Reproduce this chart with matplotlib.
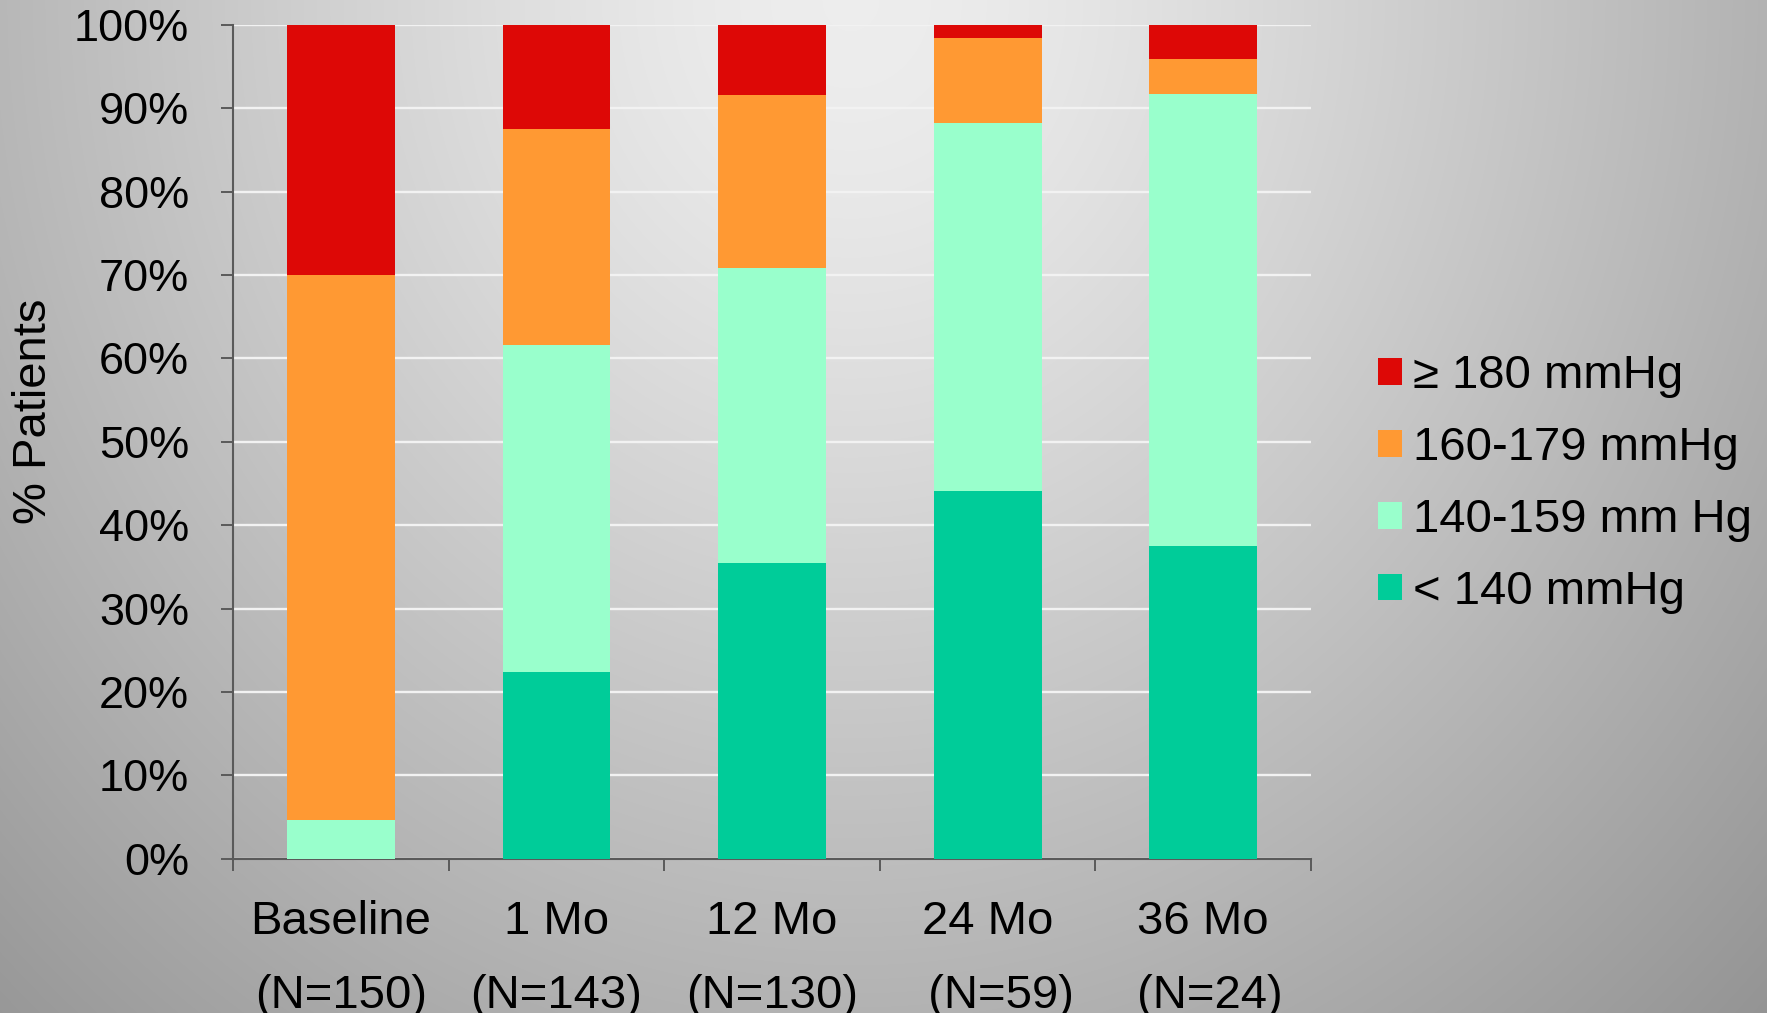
import numpy as np
import matplotlib
matplotlib.use("Agg")
import matplotlib.pyplot as plt

plt.rcParams['font.family'] = ['Liberation Sans', 'DejaVu Sans']

# Blood pressure categories per follow-up visit (% of patients)
visits = ["Baseline", "1 Mo", "12 Mo", "24 Mo", "36 Mo"]
counts = ["(N=150)", "(N=143)", "(N=130)", "  (N=59)", " (N=24)"]
below_140 = [0.0, 22.4, 35.4, 44.1, 37.5]
bp_140_159 = [4.7, 39.2, 35.4, 44.1, 54.2]
bp_160_179 = [65.3, 25.9, 20.8, 10.2, 4.2]
at_least_180 = [30.0, 12.6, 8.5, 1.7, 4.2]

series = [
    ("< 140 mmHg", below_140, "#00CC99"),
    ("140-159 mm Hg", bp_140_159, "#99FFCC"),
    ("160-179 mmHg", bp_160_179, "#FF9933"),
    ("\u2265 180 mmHg", at_least_180, "#DD0806"),
]

W, H = 1767, 1013
fig = plt.figure(figsize=(W / 100, H / 100), dpi=100)

# Soft radial grey backdrop, brightest near the top centre
bg = fig.add_axes([0, 0, 1, 1], zorder=-5)
yy, xx = np.mgrid[0:H, 0:W]
d = np.sqrt((xx - 850.0) ** 2 + (yy * 0.9) ** 2)
d = np.sqrt(d ** 2 + 220.0 ** 2) - 220.0
lum = np.clip(0.93 - 0.00032 * d, 0.0, 1.0)
bg.imshow(np.dstack([lum, lum, lum]), aspect="auto", extent=[0, 1, 0, 1],
          interpolation="bilinear")
bg.set_axis_off()

ax = fig.add_axes([233 / W, 1 - 858.7 / H, (1311 - 233) / W, (858.7 - 24.8) / H])
ax.set_facecolor("none")

x = np.arange(len(visits))
bottom = np.zeros(len(visits))
handles = []
for label, vals, color in series:
    bars = ax.bar(x, vals, width=0.5, bottom=bottom, color=color,
                  label=label, zorder=3, linewidth=0)
    handles.append(bars)
    bottom += np.array(vals)

ax.set_xlim(-0.5, len(visits) - 0.5)
ax.set_ylim(0, 100)

spine_col = "#5A5A5A"
for side in ("top", "right"):
    ax.spines[side].set_visible(False)
for side in ("left", "bottom"):
    ax.spines[side].set_color(spine_col)
    ax.spines[side].set_linewidth(1.5)

ax.set_yticks(np.arange(0, 101, 10))
ax.set_yticklabels([f"{v}%" for v in range(0, 101, 10)])
ax.tick_params(axis="y", direction="out", length=8.6, width=1.4,
               color=spine_col, pad=23, labelsize=32.5, labelcolor="black")

ax.set_xticks(np.arange(-0.5, len(visits), 1.0))
ax.set_xticklabels([])
ax.tick_params(axis="x", which="major", direction="out", length=8.6,
               width=1.4, color=spine_col)
ax.set_xticks(x, minor=True)
ax.set_xticklabels([f"{v}\n{n}" for v, n in zip(visits, counts)], minor=True,
                   fontsize=34, linespacing=1.86)
ax.tick_params(axis="x", which="minor", length=0, pad=30, labelcolor="black")

ax.yaxis.grid(True, color="#F2F2F2", linewidth=1.7, zorder=1)
ax.set_axisbelow(True)

fig.text(34 / W, 1 - 411 / H, "% Patients", rotation=90, ha="center",
         va="center", fontsize=34)

leg = ax.legend(handles=handles[::-1], loc="center left",
                bbox_to_anchor=(1378 / W, 1 - 484 / H),
                bbox_transform=fig.transFigure, frameon=False, fontsize=34,
                handlelength=0.5, handleheight=0.5, handletextpad=0.25,
                labelspacing=0.59, borderpad=0, borderaxespad=0)

fig.savefig("out.png", dpi=100)
